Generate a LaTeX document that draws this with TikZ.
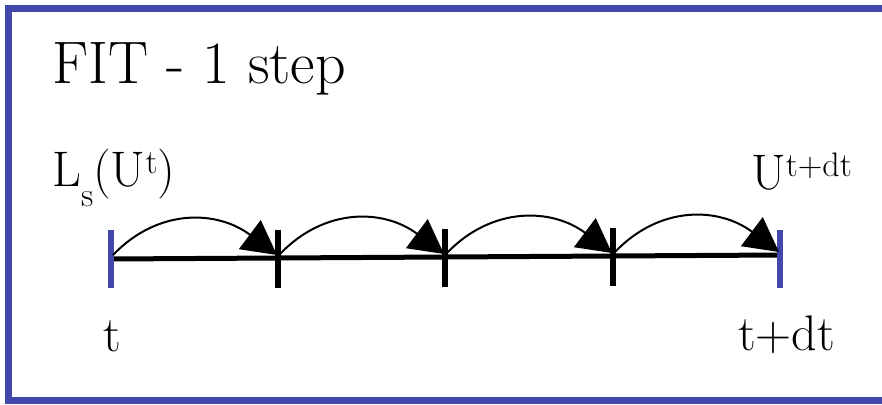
\documentclass[tikz,border=0pt]{standalone}
\usepackage{fontspec}
\usetikzlibrary{arrows.meta,calc}
\definecolor{frameblue}{RGB}{66,72,170}
% lowered and raised small text for the labels
\newcommand\lowtext[1]{\raisebox{-20pt}{\fontsize{34}{40}\selectfont #1}}
\newcommand\hightext[1]{\raisebox{13pt}{\fontsize{34}{40}\selectfont #1}}
\tikzset{
  frame/.style={draw=frameblue, line width=7pt},
  axis/.style={line width=5pt},
  tickmark/.style={line width=5.5pt},
  endmark/.style={tickmark, draw=frameblue},
  hop/.style={line width=2pt, -{Triangle[length=34pt,width=36pt]}},
  title/.style={anchor=base west, inner sep=0pt, font=\fontsize{60}{70}\selectfont},
  lbl/.style={anchor=base west, inner sep=0pt, font=\fontsize{50}{60}\selectfont},
}
\begin{document}
\begin{tikzpicture}[x=1pt,y=-1pt]
\useasboundingbox (0,0) rectangle (882,404);
\begin{scope}
  \clip (0,0) rectangle (882,404);
  \draw[frame] (8,8.5) rectangle (900,400);
\end{scope}

% points on the time axis
\coordinate (p0) at (111,259);
\coordinate (p1) at (278,258);
\coordinate (p2) at (445,257);
\coordinate (p3) at (613,256);
\coordinate (p4) at (780,255);

\draw[axis] (p0) -- (p4);
\draw[endmark] ($(p0)+(0,-29)$) -- ($(p0)+(0,29)$);
\foreach \p in {p1,p2,p3}
  \draw[tickmark] ($(\p)+(0,-28)$) -- ($(\p)+(0,30)$);
\draw[endmark] ($(p4)+(0,-25)$) -- ($(p4)+(0,33)$);

% sub-steps
\foreach \a/\b in {p0/p1,p1/p2,p2/p3,p3/p4}
  \draw[hop] ($(\a)+(2,-4)$) .. controls +(45,-47) and +(-60,-45) .. ($(\b)+(-1,-3)$);

% labels
\node[title] (ttl) at (52,83) {FIT - 1 step};
\node[lbl] (ls) at (52,186) {L\lowtext{s}(U\hightext{t})};
\node[lbl] (un) at (751,189) {U\hightext{t+dt}};
\node[lbl] (t0) at (103,351) {t};
\node[lbl] (t1) at (738,350) {t+dt};
\end{tikzpicture}
\end{document}
